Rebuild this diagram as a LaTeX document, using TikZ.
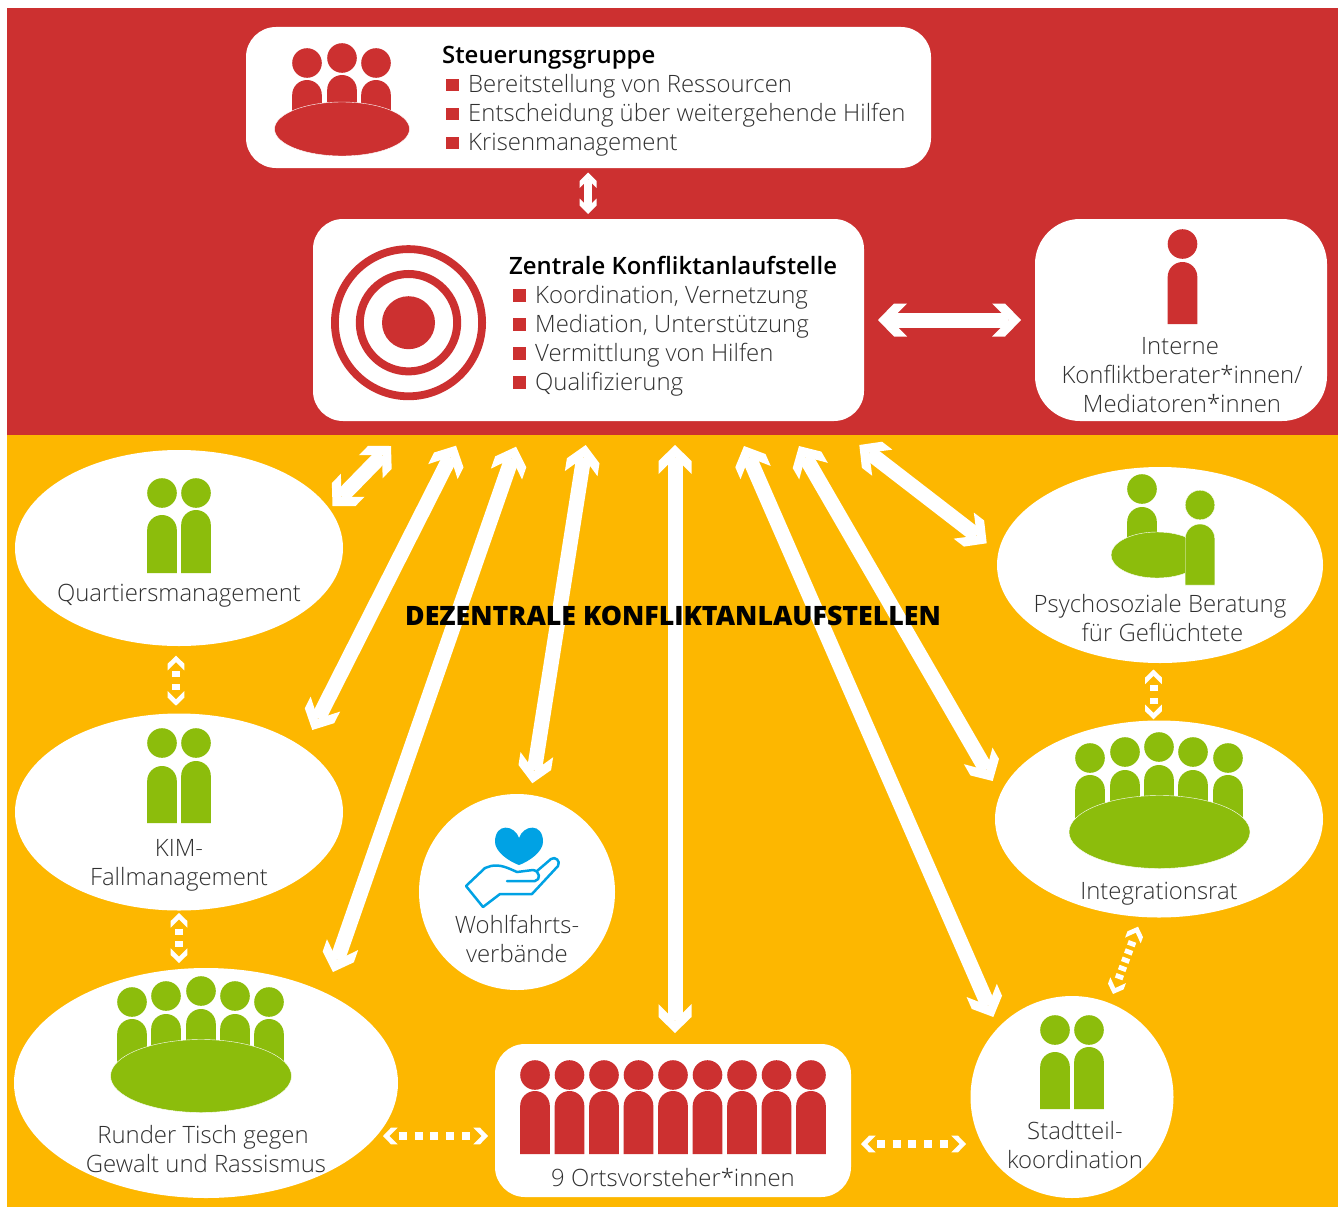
\documentclass[tikz,border=0pt]{standalone}
\usepackage{fontspec}
\setmainfont{Open Sans Light}[BoldFont={Open Sans Semibold}]
\newfontfamily\titelfont{Open Sans Extrabold}
\usetikzlibrary{arrows.meta,shapes.geometric}

\definecolor{konfrot}{HTML}{CC3030}
\definecolor{konfgelb}{HTML}{FDB700}
\definecolor{konfgruen}{HTML}{8CBD0C}
\definecolor{konfblau}{HTML}{00A2E4}
\definecolor{konftext}{HTML}{303030}

% arrow head with arms cut parallel to the shaft; #2: where the shaft stops
\newcommand{\pfeilkopf}[2]{\pgfdeclarearrow{
	name=#1,
	setup code={
		\pgfmathsetlengthmacro{\kopfline}{#2}
		\pgfmathsetlengthmacro{\kopfback}{-\pgfarrowlength-\pgfarrowinset}
		\pgfarrowssetlineend{\kopfline}
		\pgfarrowssetbackend{\kopfback}
		\pgfarrowssetvisualbackend{\kopfback}
		\pgfarrowssettipend{0pt}
		\pgfarrowssavethe\pgfarrowlength
		\pgfarrowssavethe\pgfarrowwidth
		\pgfarrowssavethe\pgfarrowinset
	},
	drawing code={
		\pgfpathmoveto{\pgfpointorigin}
		\pgfpathlineto{\pgfpoint{-\pgfarrowlength}{.5\pgfarrowwidth}}
		\pgfpathlineto{\pgfpoint{-\pgfarrowlength-\pgfarrowinset}{.5\pgfarrowwidth}}
		\pgfpathlineto{\pgfpoint{-\pgfarrowlength-\pgfarrowinset+.5\pgfarrowwidth}{0pt}}
		\pgfpathlineto{\pgfpoint{-\pgfarrowlength-\pgfarrowinset}{-.5\pgfarrowwidth}}
		\pgfpathlineto{\pgfpoint{-\pgfarrowlength}{-.5\pgfarrowwidth}}
		\pgfpathclose
		\pgfusepathqfill
	},
	parameters={\the\pgfarrowlength,\the\pgfarrowwidth,\the\pgfarrowinset},
	defaults={length=16pt, width=33pt, inset=13pt}
}}
\pfeilkopf{Kopf}{-\pgfarrowinset}
\pfeilkopf{KopfLuecke}{-\pgfarrowlength-\pgfarrowinset-1pt}

\tikzset{
	boxnode/.style={fill=white, rectangle, rounded corners=30pt, inner sep=0pt},
	ellnode/.style={fill=white, ellipse, inner sep=0pt},
	txt/.style={text=konftext, font=\fontsize{23.9}{29}\selectfont, align=center, inner sep=0pt},
	listtxt/.style={txt, align=left, anchor=north west},
	bigarrow/.style={draw=white, line width=15pt, {Kopf}-{Kopf}},
	smallarrow/.style={draw=white, line width=8pt, {Kopf[length=8.5pt,width=17pt,inset=7pt]}-{Kopf[length=8.5pt,width=17pt,inset=7pt]}},
	dotarrow/.style={draw=white, line width=8pt, dash pattern=on 8pt off 7.8pt, {KopfLuecke[length=8pt,width=16.6pt,inset=6.7pt]}-{KopfLuecke[length=8pt,width=16.6pt,inset=6.7pt]}},
	dotshort/.style={dotarrow, dash pattern=on 6pt off 6.7pt},
	dotslant/.style={dotarrow, dash pattern=on 4.8pt off 4pt}
}

% x, y of head, top of body, bottom of body, colour
\newcommand{\figur}[5]{
	\fill[#5] (#1,#2) circle[radius=14.8pt];
	\fill[#5] (#1-14.8,#4) -- (#1-14.8,#3+14.8) arc[start angle=180, end angle=0, radius=14.8pt] -- (#1+14.8,#4) -- cycle;
}
\newcommand{\bul}{\textcolor{konfrot}{\rule[1.2pt]{12.5pt}{12.5pt}}\hspace{9.5pt}}
\newcommand{\kopfzeile}[1]{\textcolor{black}{\textbf{#1}}}

\begin{document}
\begin{tikzpicture}[x=1pt, y=-1pt]
	\useasboundingbox (0,0) rectangle (1338,1207);
	\fill[konfrot] (7,8) rectangle (1338,435);
	\fill[konfgelb] (7,435) rectangle (1338,1207);

	% white shapes
	\node[boxnode, minimum width=685pt, minimum height=141pt] (steuerung) at (588.5,97.5) {};
	\node[boxnode, minimum width=551pt, minimum height=202pt] (zentrale) at (588.5,320) {};
	\node[boxnode, rounded corners=45pt, minimum width=292pt, minimum height=202pt] (interne) at (1181,320) {};
	\node[boxnode, minimum width=356pt, minimum height=153pt] (orts) at (673,1120.5) {};
	\node[ellnode, minimum width=328pt, minimum height=196pt] (quartier) at (179,548) {};
	\node[ellnode, minimum width=328pt, minimum height=197pt] (kim) at (179,812) {};
	\node[ellnode, minimum width=384pt, minimum height=230pt] (runder) at (206,1083) {};
	\node[ellnode, minimum width=196pt, minimum height=196pt] (wohlfahrt) at (517,892) {};
	\node[ellnode, minimum width=326pt, minimum height=196pt] (psycho) at (1160,565) {};
	\node[ellnode, minimum width=328pt, minimum height=197pt] (integration) at (1159,819) {};
	\node[ellnode, minimum width=203pt, minimum height=202pt] (stadtteil) at (1072,1097) {};

	% free ends of the arrows
	\coordinate (s1) at (588,172.5);
	\coordinate (s2) at (588,214);
	\coordinate (i1) at (878,320);
	\coordinate (i2) at (1021,320);
	\coordinate (q1) at (391,446);
	\coordinate (q2) at (332.5,506);
	\coordinate (k1) at (456,445.7);
	\coordinate (k2) at (312.3,730);
	\coordinate (r1) at (516,446.7);
	\coordinate (r2) at (333,972);
	\coordinate (w1) at (585.7,445);
	\coordinate (w2) at (532.3,783.3);
	\coordinate (o1) at (675,445);
	\coordinate (o2) at (675,1033);
	\coordinate (t1) at (744,446);
	\coordinate (t2) at (993.3,1017);
	\coordinate (n1) at (799,446);
	\coordinate (n2) at (992.7,781);
	\coordinate (p1) at (859.3,445);
	\coordinate (p2) at (986.7,543.3);

	\draw[smallarrow] (s1) -- (s2);
	\draw[bigarrow] (i1) -- (i2);
	\draw[bigarrow] (q1) -- (q2);
	\draw[bigarrow] (k1) -- (k2);
	\draw[bigarrow] (r1) -- (r2);
	\draw[bigarrow] (w1) -- (w2);
	\draw[bigarrow] (o1) -- (o2);
	\draw[bigarrow] (t1) -- (t2);
	\draw[bigarrow] (n1) -- (n2);
	\draw[bigarrow] (p1) -- (p2);

	% dotted arrows
	\coordinate (d1) at (176,655.7);
	\coordinate (d2) at (176,705.7);
	\coordinate (d3) at (179,913);
	\coordinate (d4) at (179,963);
	\coordinate (d5) at (383,1136);
	\coordinate (d6) at (488,1136);
	\coordinate (d7) at (861,1144);
	\coordinate (d8) at (966,1144);
	\coordinate (d9) at (1153.5,669.5);
	\coordinate (d10) at (1153.5,719.3);
	\coordinate (d11) at (1138,926.7);
	\coordinate (d12) at (1113,994);
	\draw[dotshort] (d1) -- (d2);
	\draw[dotshort] (d3) -- (d4);
	\draw[dotarrow] (d5) -- (d6);
	\draw[dotarrow] (d7) -- (d8);
	\draw[dotshort] (d9) -- (d10);
	\draw[dotslant] (d11) -- (d12);

	% Steuerungsgruppe
	\figur{307}{63}{80}{112}{konfrot}
	\figur{342}{58}{75}{112}{konfrot}
	\figur{376}{63}{80}{112}{konfrot}
	\fill[konfrot, draw=white] (342,129) ellipse[x radius=67.5pt, y radius=27pt];
	\node[listtxt] (steuerungtxt) at (442,46) {\kopfzeile{Steuerungsgruppe}\\[0pt]
		\hspace{4pt}\bul Bereitstellung von Ressourcen\\
		\hspace{4pt}\bul Entscheidung über weitergehende Hilfen\\
		\hspace{4pt}\bul Krisenmanagement};

	% Zentrale
	\draw[konfrot, line width=7.8pt] (408.5,322.7) circle[radius=73.6pt];
	\draw[konfrot, line width=8pt] (408.5,322.7) circle[radius=48.7pt];
	\fill[konfrot] (408.5,322.7) circle[radius=26.5pt];
	\node[listtxt] (zentraletxt) at (509,255.6) {\kopfzeile{Zentrale Konfliktanlaufstelle}\\
		\hspace{4pt}\bul Koordination, Vernetzung\\
		\hspace{4pt}\bul Mediation, Unterstützung\\
		\hspace{4pt}\bul Vermittlung von Hilfen\\
		\hspace{4pt}\bul Qualifizierung};

	% Interne
	\figur{1182.5}{244}{262}{324}{konfrot}
	\node[txt] (internetxt) at (1182,375) {Interne\hspace*{4pt}\\Konfliktberater*innen/\\Mediatoren*innen};

	% Ortsvorsteher
	\foreach \i in {0,...,8}{
		\figur{535+34.5*\i}{1075}{1091}{1154}{konfrot}
	}
	\node[txt] (ortstxt) at (673,1178) {9 Ortsvorsteher*innen};

	% Quartier, KIM, Stadtteil
	\figur{162}{493}{515}{573}{konfgruen}
	\figur{196}{493}{510}{573}{konfgruen}
	\node[txt] (quartiertxt) at (179,596) {Quartiersmanagement};
	\figur{162}{743}{766}{823}{konfgruen}
	\figur{196}{743}{761}{823}{konfgruen}
	\node[txt] (kimtxt) at (179,865) {KIM-\\Fallmanagement};
	\figur{1055}{1030}{1052}{1109}{konfgruen}
	\figur{1089}{1030}{1047}{1109}{konfgruen}
	\node[txt] (stadtteiltxt) at (1075,1145) {Stadtteil-\\koordination};

	% Runder Tisch
	\figur{132}{1002}{1019}{1065}{konfgruen}
	\figur{166}{996}{1014}{1065}{konfgruen}
	\figur{201}{991}{1009}{1065}{konfgruen}
	\figur{235}{996}{1014}{1065}{konfgruen}
	\figur{269}{1002}{1019}{1065}{konfgruen}
	\fill[konfgruen, draw=white] (201,1076) ellipse[x radius=90.5pt, y radius=36.5pt];
	\node[txt] (rundertxt) at (206,1149) {Runder Tisch gegen\hspace*{6pt}\\Gewalt und Rassismus};

	% Integrationsrat
	\figur{1090}{758}{775}{820}{konfgruen}
	\figur{1125}{752}{770}{820}{konfgruen}
	\figur{1159}{747}{765}{820}{konfgruen}
	\figur{1193}{752}{770}{820}{konfgruen}
	\figur{1228}{758}{775}{820}{konfgruen}
	\fill[konfgruen, draw=white] (1159.5,832) ellipse[x radius=90.5pt, y radius=36.5pt];
	\node[txt] (integrationtxt) at (1159,894) {Integrationsrat};

	% Psychosoziale Beratung
	\figur{1142}{489}{507}{545}{konfgruen}
	\fill[konfgruen, draw=white] (1157,555) ellipse[x radius=46pt, y radius=23pt];
	\figur{1200}{505}{524}{585}{konfgruen, draw=white}
	\node[txt] (psychotxt) at (1160,618) {Psychosoziale Beratung\\\hspace{5pt}für Geflüchtete};

	% Wohlfahrt
	\fill[konfblau] (519,838) .. controls (515,825) and (495,822) .. (495,842) .. controls (495,852) and (510,862) .. (519,865)
		.. controls (528,862) and (543,852) .. (543,842) .. controls (543,822) and (523,825) .. (519,838) -- cycle;
	\draw[konfblau, line width=2.5pt, line join=round, line cap=round] (507,881) -- (535,881)
		.. controls (541,880) and (540,871) .. (533,870) -- (517,872) .. controls (508,868) and (500,864) .. (491,866) -- (485,868) -- (466,886) -- (483,907) -- (500,894) -- (532,894)
		-- (558,866) .. controls (561,861) and (555,856) .. (551,859) -- (537,871);
	\node[txt] (wohlfahrttxt) at (517,939) {Wohlfahrts-\\verbände};

	% title
	\node[inner sep=0pt, text=black, font=\fontsize{26.7}{30}\titelfont] (titel) at (673,615.5) {DEZENTRALE KONFLIKTANLAUFSTELLEN};
\end{tikzpicture}
\end{document}
